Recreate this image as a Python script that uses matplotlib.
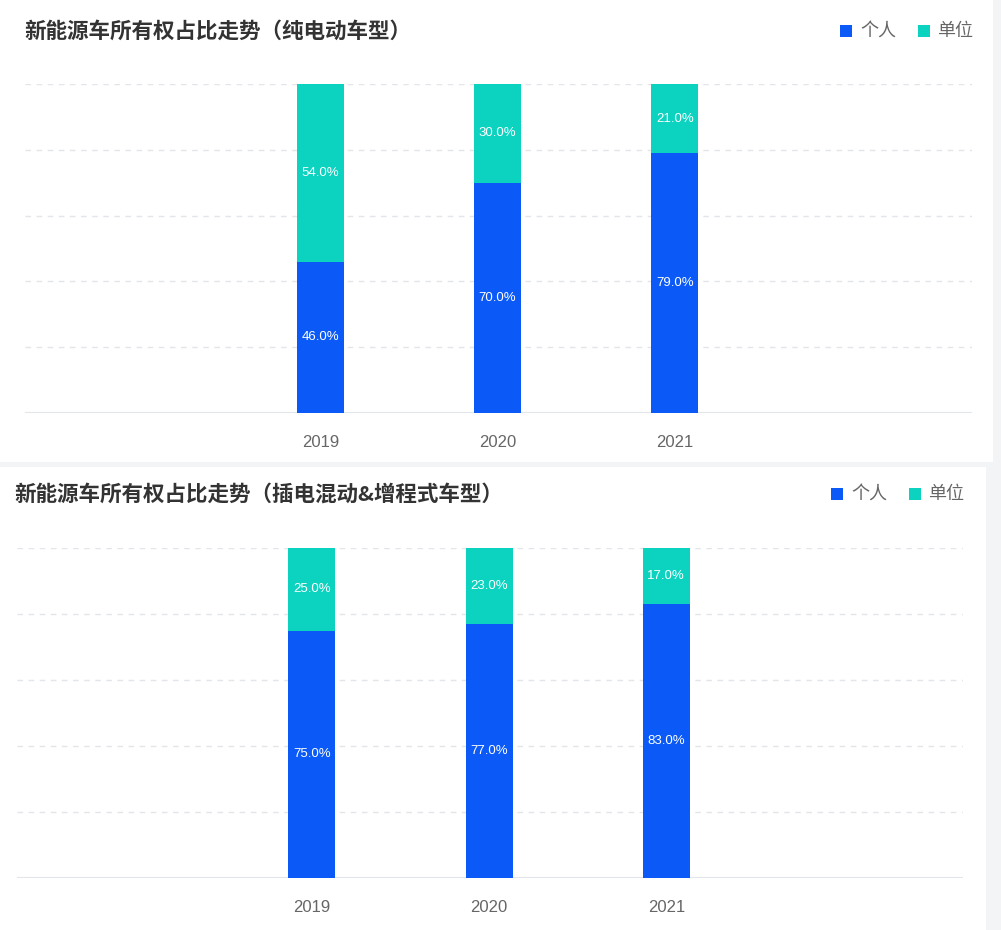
import matplotlib.pyplot as plt
from matplotlib.patches import Rectangle

plt.rcParams['font.family'] = ['Liberation Sans', 'Noto Sans CJK SC', 'DejaVu Sans']

# data
years = ['2019', '2020', '2021']
series_names = ['个人', '单位']
bev_personal = [46.0, 70.0, 79.0]
bev_company = [54.0, 30.0, 21.0]
phev_personal = [75.0, 77.0, 83.0]
phev_company = [25.0, 23.0, 17.0]

titles = ['新能源车所有权占比走势（纯电动车型）',
          '新能源车所有权占比走势（插电混动&增程式车型）']

BLUE = '#0B5AF8'
TEAL = '#0BD3BF'
W, H = 1001, 930

fig = plt.figure(figsize=(W / 100, H / 100), dpi=100)
fig.patch.set_facecolor('#f3f4f6')

# white panels (two stacked screenshots), kept behind the axes
fig.patches.append(Rectangle((0, 1 - 462 / H), 993 / W, 462 / H,
                             transform=fig.transFigure, fc='white', ec='none', zorder=-5))
fig.patches.append(Rectangle((0, 0), 986 / W, 1 - 467 / H,
                             transform=fig.transFigure, fc='white', ec='none', zorder=-5))


def panel(left, right, top, bottom, personal, company, title, title_x, title_y, leg_x):
    ax = fig.add_axes([left / W, 1 - bottom / H, (right - left) / W, (bottom - top) / H])
    ax.set_facecolor('none')
    x = list(range(len(years)))
    ax.bar(x, personal, width=0.265, color=BLUE, zorder=3)
    ax.bar(x, company, width=0.265, bottom=personal, color=TEAL, zorder=3)
    for i in x:
        ax.text(i, personal[i] / 2, f'{personal[i]:.1f}%', ha='center', va='center',
                color='white', fontsize=9.5, zorder=4)
        ax.text(i, personal[i] + company[i] / 2, f'{company[i]:.1f}%', ha='center',
                va='center', color='white', fontsize=9.5, zorder=4)
    ax.set_xlim(-1.665, 3.675)
    ax.set_ylim(0, 100)
    for g in [20, 40, 60, 80, 100]:
        ax.axhline(g, color='#e2e5ea', lw=1, ls=(0, (4, 4)), zorder=1)
    ax.axhline(0, color='#e2e5ea', lw=1.5, zorder=2)
    for s in ax.spines.values():
        s.set_visible(False)
    ax.set_yticks([])
    ax.set_xticks(x)
    ax.set_xticklabels(years, fontsize=12, color='#666666')
    ax.tick_params(axis='x', length=0, pad=16)

    fig.text(title_x / W, 1 - title_y / H, title, fontsize=15.5, fontweight='bold',
             color='#333333', va='center', ha='left',
             family=['Noto Sans CJK SC', 'DejaVu Sans'])
    colors = [BLUE, TEAL]
    offsets = [0, 77.5]
    for name, c, off in zip(series_names, colors, offsets):
        sx = leg_x + off
        fig.patches.append(Rectangle(((sx - 6) / W, 1 - (title_y + 6) / H), 12 / W, 12 / H,
                                     transform=fig.transFigure, fc=c, ec='none'))
        fig.text((sx + 14) / W, 1 - title_y / H, name, fontsize=13, color='#666666',
                 va='center', ha='left', family=['Noto Sans CJK SC', 'DejaVu Sans'])


panel(25, 972, 84, 413, bev_personal, bev_company, titles[0], 24, 31, 846)
panel(17, 963, 548, 878, phev_personal, phev_company, titles[1], 14, 494, 837)

fig.savefig('out.png', dpi=100)
